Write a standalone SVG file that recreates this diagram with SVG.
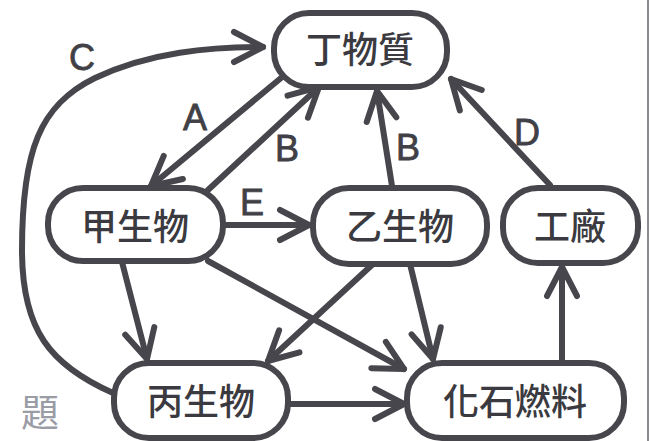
<svg xmlns="http://www.w3.org/2000/svg" width="653" height="441" viewBox="0 0 653 441">
<defs>
<style>
.box{fill:#ffffff;stroke:#46464c;stroke-width:6}
.lbl{font-family:"Noto Sans CJK TC","Noto Sans CJK SC",sans-serif;font-size:36px;font-weight:500;fill:#3a3a40;text-anchor:middle}
.let{font-family:"Liberation Sans","DejaVu Sans",sans-serif;font-size:36px;fill:#404046;text-anchor:middle;stroke:#404046;stroke-width:0.8}
.con{fill:none;stroke:#46464c;stroke-width:6;stroke-linecap:round}
.con path{marker-end:url(#arr)}
</style>
<marker id="arr" markerUnits="userSpaceOnUse" viewBox="-40 -25 50 50" refX="0" refY="0" markerWidth="50" markerHeight="50" orient="auto">
<path d="M-29,-15 L0,0 L-29,15" fill="none" stroke="#46464c" stroke-width="6" stroke-linecap="round" stroke-linejoin="round"/>
</marker>
</defs>
<rect width="653" height="441" fill="#ffffff"/>
<line x1="648" y1="0" x2="648" y2="441" stroke="#8a8a90" stroke-width="2"/>
<text x="40" y="426" font-family="Noto Sans CJK TC, sans-serif" font-size="38" fill="#9a9ca6" text-anchor="middle">題</text>
<g id="connectors" class="con">
<path d="M113,393 C50,365 22,330 22,250 C22,150 40,105 95,78 C150,52 210,47 263,47"/>
<path d="M281,78 L151,186"/>
<path d="M208,190 L319,87"/>
<path d="M392,186 L377,91"/>
<path d="M550,185 L451,79"/>
<path d="M223,225 L309,225"/>
<path d="M122,262 L147,359"/>
<path d="M208,261 L404,369"/>
<path d="M373,264 L268,361"/>
<path d="M410,264 L433,359"/>
<path d="M288,404 L404,404"/>
<path d="M562,363 L562,267"/>
</g>
<g id="labels">
<text class="let" x="82" y="70">C</text>
<text class="let" x="195" y="130">A</text>
<text class="let" x="287" y="161">B</text>
<text class="let" x="408" y="160">B</text>
<text class="let" x="527" y="145">D</text>
<text class="let" x="252" y="215">E</text>
</g>
<g id="node-ding">
<rect class="box" x="274" y="13" width="173" height="74" rx="35"/>
<text class="lbl" x="360" y="63">丁物質</text>
</g>
<g id="node-jia">
<rect class="box" x="48" y="188" width="175" height="73" rx="35"/>
<text class="lbl" x="135" y="240">甲生物</text>
</g>
<g id="node-yi">
<rect class="box" x="313" y="188" width="174" height="76" rx="36"/>
<text class="lbl" x="400" y="240">乙生物</text>
</g>
<g id="node-factory">
<rect class="box" x="503" y="188" width="135" height="75" rx="35"/>
<text class="lbl" x="570" y="240">工廠</text>
</g>
<g id="node-bing">
<rect class="box" x="114" y="363" width="174" height="75" rx="35"/>
<text class="lbl" x="201" y="415">丙生物</text>
</g>
<g id="node-fossil">
<rect class="box" x="407" y="363" width="217" height="75" rx="35"/>
<text class="lbl" x="515" y="415">化石燃料</text>
</g>
</svg>
